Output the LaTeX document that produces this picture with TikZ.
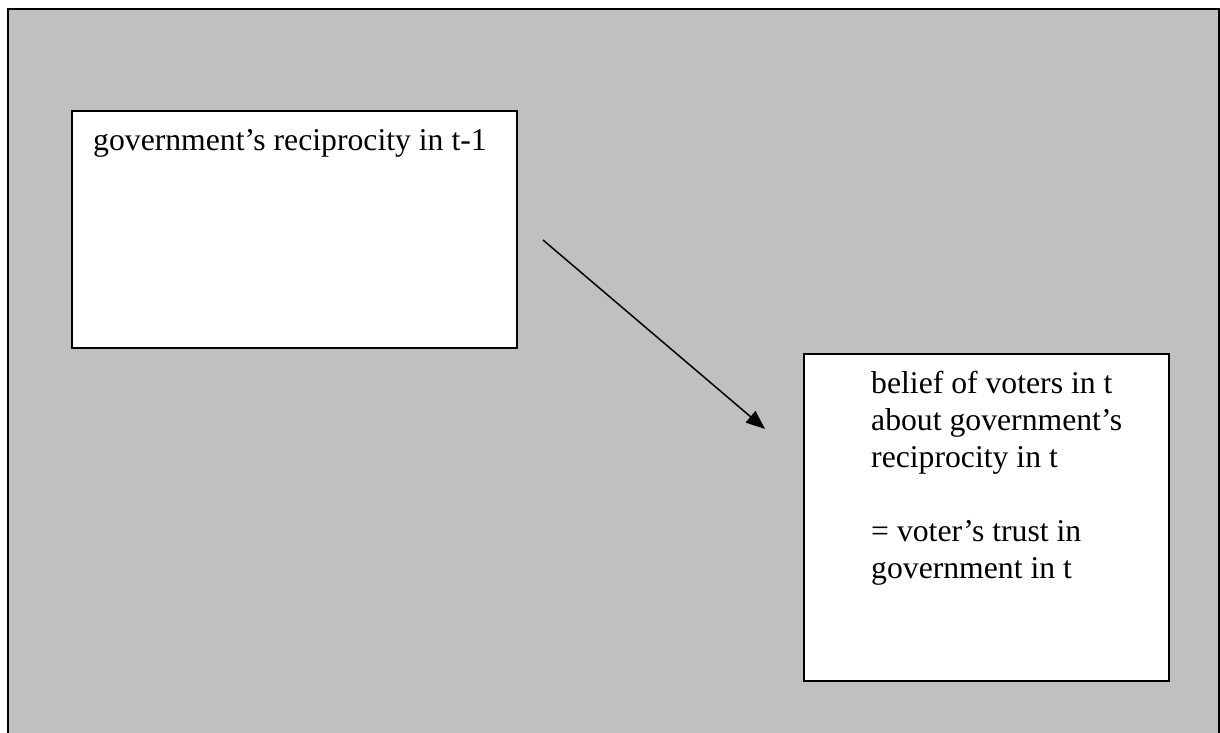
\documentclass[tikz,border=0pt]{standalone}
\usepackage{fontspec}
\setmainfont{Liberation Serif}
\usepackage{xcolor}
\usepackage{tikz}
\usetikzlibrary{positioning,calc,arrows.meta}

\definecolor{panelgray}{HTML}{C0C0C0}

\begin{document}
\begin{tikzpicture}[
    x=1pt, y=-1pt,
    varbox/.style={draw, line width=2pt, fill=white, inner sep=0pt, anchor=north west},
    vartext/.style={inner sep=0pt, anchor=base west, align=left,
        font=\fontsize{31.7}{37}\selectfont},
    effect/.style={-{Triangle[length=19pt,width=15pt]}, line width=1.5pt}
]
    \useasboundingbox (0,0) rectangle (1220,733);
    % background panel, open at the bottom
    \fill[panelgray] (8,9) rectangle (1219,733);
    \draw[line width=2pt] (8,733) -- (8,9) -- (1219,9) -- (1219,733);

    \node[varbox, minimum width=445pt, minimum height=237pt] (recip) at (71,110) {};
    \node[varbox, minimum width=365pt, minimum height=327pt] (belief) at (803,353) {};

    \node[vartext] (reciptext) at ([xshift=22pt, yshift=-40pt]recip.north west)
        {government's reciprocity in t-1};
    % base of a multi-line node is its last line
    \node[vartext] (belieftext) at ([xshift=68pt, yshift=-225pt]belief.north west)
        {belief of voters in t\\about government's\\reciprocity in t\\[37pt]= voter's trust in\\government in t};

    \coordinate (from) at ([xshift=25pt, yshift=-10.5pt]recip.east);
    \coordinate (to) at ([xshift=-38pt, yshift=88.5pt]belief.west);
    \draw[effect] (from) -- (to);
\end{tikzpicture}
\end{document}
